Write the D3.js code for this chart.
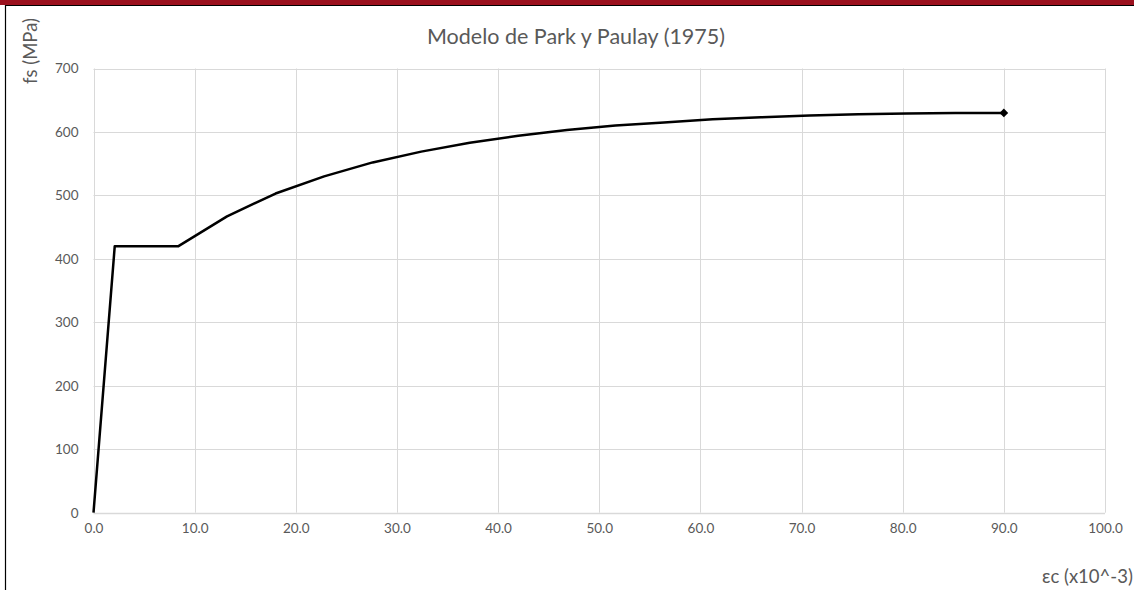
<!DOCTYPE html>
<meta charset="utf-8">
<style>
body{
  margin: 0;
  background: #fff;
}
svg{
  display: block;
}
</style>

<svg width="1134" height="590"></svg>
<script src="https://d3js.org/d3.v7.min.js"></script>
<script>

// deformacion (x10^-3) y esfuerzo fs (MPa)
var strain = [0.0, 2.1, 8.4, 13.2, 18.0, 22.8, 27.6, 32.4, 37.2, 42.0, 46.8, 51.6, 56.4, 61.2, 66.0, 70.8, 75.6, 80.4, 85.2, 90.0];
var stress = [0, 420, 420, 467, 503, 530, 552, 569, 583, 594, 603, 610, 615, 620, 623, 626, 628, 629, 630, 630];

var xTicks = [0, 10, 20, 30, 40, 50, 60, 70, 80, 90, 100];
var yTicks = [0, 100, 200, 300, 400, 500, 600, 700];

var title = "Modelo de Park y Paulay (1975)",
    xLabel = "εc (x10^-3)",
    yLabel = "fs (MPa)";

var svg = d3.select("svg"),
    width = +svg.attr("width"),
    height = +svg.attr("height");

var font = "Lato, 'Open Sans', sans-serif",
    grey = "#595959";

var x = d3.scaleLinear().domain([0, 100]).range([93.5, 1105]),
    y = d3.scaleLinear().domain([0, 700]).range([512.7, 68.5]);

// marco de la hoja
svg.append("rect").attr("x", 0).attr("y", 0).attr("width", width).attr("height", 5)
    .attr("fill", "#9b111e");
svg.append("line").attr("x1", 5).attr("x2", width).attr("y1", 5.5).attr("y2", 5.5)
    .attr("stroke", "#000").attr("stroke-width", 1.2);
svg.append("line").attr("x1", 5.5).attr("x2", 5.5).attr("y1", 5).attr("y2", height)
    .attr("stroke", "#000").attr("stroke-width", 1.2);

// rejilla
var grid = svg.append("g").attr("stroke", "#d9d9d9").attr("stroke-width", 1);
grid.selectAll(".gx").data(xTicks).enter().append("line")
    .attr("x1", d => Math.round(x(d)) + 0.5).attr("x2", d => Math.round(x(d)) + 0.5)
    .attr("y1", y(700)).attr("y2", y(0));
grid.selectAll(".gy").data(yTicks).enter().append("line")
    .attr("x1", x(0)).attr("x2", x(100))
    .attr("y1", d => Math.round(y(d)) + 0.5).attr("y2", d => Math.round(y(d)) + 0.5)
    .attr("stroke-width", d => d === 0 ? 1.5 : 1);

// etiquetas de los ejes
var xAxis = svg.append("g")
    .attr("transform", "translate(0," + (y(0) + 8) + ")")
    .call(d3.axisBottom(x).tickValues(xTicks).tickSize(0).tickFormat(d3.format(".1f")));
var yAxis = svg.append("g")
    .attr("transform", "translate(" + (x(0) - 12) + ",0)")
    .call(d3.axisLeft(y).tickValues(yTicks).tickSize(0).tickFormat(d3.format("d")));
[xAxis, yAxis].forEach(function(a) {
  a.select(".domain").remove();
  a.selectAll("text").attr("fill", grey).style("font-family", font).style("font-size", "13.5px");
});

// curva
var line = d3.line()
    .x(d => x(d[0]))
    .y(d => y(d[1]));
var pts = strain.map((s, i) => [s, stress[i]]);

svg.append("path")
    .datum(pts)
    .attr("fill", "none")
    .attr("stroke", "#000")
    .attr("stroke-width", 2.5)
    .attr("stroke-linejoin", "round")
    .attr("d", line);

// rombo en el ultimo punto
var last = pts[pts.length - 1];
svg.append("path")
    .attr("d", d3.symbol().type(d3.symbolSquare).size(38))
    .attr("transform", "translate(" + x(last[0]) + "," + y(last[1]) + ") rotate(45)")
    .attr("fill", "#000");

// textos
svg.append("text")
    .attr("x", 576).attr("y", 44)
    .attr("text-anchor", "middle")
    .attr("fill", grey)
    .style("font-family", font).style("font-size", "21.5px")
    .text(title);

svg.append("text")
    .attr("transform", "translate(37,51) rotate(-90)")
    .attr("text-anchor", "middle")
    .attr("fill", grey)
    .style("font-family", font).style("font-size", "18.5px")
    .text(yLabel);

svg.append("text")
    .attr("x", 1042).attr("y", 583)
    .attr("fill", grey)
    .style("font-family", font).style("font-size", "18.5px")
    .text(xLabel);

</script>
